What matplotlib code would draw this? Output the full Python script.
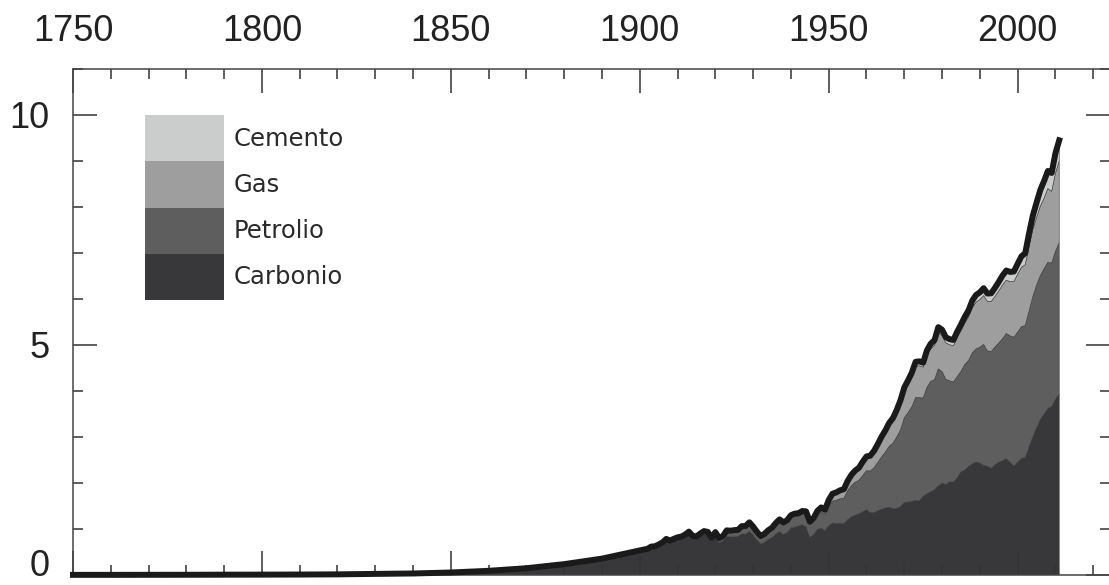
#!/usr/bin/env python3
"""Emissioni globali di CO2 da combustibili fossili e cemento (GtC/anno), 1750-2011."""
import matplotlib

matplotlib.use("Agg")
import matplotlib.pyplot as plt
from matplotlib.patches import Patch
from matplotlib.ticker import MultipleLocator
from matplotlib.transforms import ScaledTranslation

# --- dati (GtC / anno) -------------------------------------------------------
years = list(range(1750, 1900, 10)) + list(range(1900, 2012))

carbonio = [
    # 1750-1890 (per decennio)
    0.003, 0.003, 0.004, 0.005, 0.007, 0.008, 0.010, 0.014, 0.024, 0.033,
    0.054, 0.091, 0.146, 0.231, 0.344,
    # 1900-1949
    0.515, 0.530, 0.543, 0.593, 0.597, 0.632, 0.676, 0.747, 0.711, 0.743,
    0.773, 0.787, 0.828, 0.888, 0.793, 0.779, 0.838, 0.886, 0.865, 0.730,
    0.836, 0.702, 0.732, 0.835, 0.827, 0.831, 0.834, 0.893, 0.887, 0.946,
    0.863, 0.759, 0.675, 0.707, 0.776, 0.813, 0.896, 0.943, 0.882, 0.923,
    1.017, 1.042, 1.064, 1.092, 1.047, 0.819, 0.875, 0.991, 1.017, 0.963,
    # 1950-1999
    1.069, 1.131, 1.121, 1.127, 1.115, 1.203, 1.265, 1.304, 1.330, 1.377,
    1.419, 1.357, 1.355, 1.397, 1.433, 1.456, 1.475, 1.445, 1.449, 1.485,
    1.579, 1.585, 1.601, 1.619, 1.611, 1.714, 1.766, 1.812, 1.854, 1.938,
    2.002, 1.966, 2.026, 2.019, 2.113, 2.243, 2.284, 2.360, 2.415, 2.458,
    2.433, 2.387, 2.365, 2.321, 2.394, 2.451, 2.487, 2.530, 2.449, 2.370,
    # 2000-2011
    2.449, 2.540, 2.544, 2.780, 3.000, 3.200, 3.380, 3.500, 3.620, 3.660,
    3.820, 3.930,
]

petrolio = [
    0, 0, 0, 0, 0, 0, 0, 0, 0, 0, 0, 0, 0.001, 0.003, 0.009,
    0.016, 0.018, 0.019, 0.020, 0.023, 0.023, 0.023, 0.028, 0.030, 0.032,
    0.034, 0.036, 0.037, 0.041, 0.042, 0.045, 0.048, 0.054, 0.056, 0.060,
    0.078, 0.084, 0.094, 0.111, 0.110, 0.116, 0.119, 0.136, 0.143, 0.160,
    0.152, 0.147, 0.141, 0.154, 0.162, 0.176, 0.192, 0.219, 0.214, 0.222,
    0.229, 0.236, 0.222, 0.239, 0.275, 0.275, 0.292, 0.322, 0.364, 0.362,
    0.423, 0.479, 0.504, 0.533, 0.557, 0.625, 0.679, 0.714, 0.731, 0.789,
    0.849, 0.904, 0.980, 1.052, 1.137, 1.219, 1.323, 1.423, 1.551, 1.673,
    1.839, 1.947, 2.057, 2.241, 2.245, 2.132, 2.314, 2.398, 2.392, 2.544,
    2.422, 2.289, 2.196, 2.176, 2.199, 2.186, 2.293, 2.306, 2.412, 2.459,
    2.517, 2.627, 2.506, 2.537, 2.562, 2.594, 2.650, 2.720, 2.750, 2.800,
    2.830, 2.860, 2.880, 2.950, 3.050, 3.100, 3.130, 3.160, 3.180, 3.120,
    3.220, 3.290,
]

gas = [
    0, 0, 0, 0, 0, 0, 0, 0, 0, 0, 0, 0, 0, 0.002, 0.003,
    0.003, 0.004, 0.004, 0.004, 0.004, 0.005, 0.005, 0.005, 0.005, 0.006,
    0.007, 0.008, 0.008, 0.008, 0.009, 0.009, 0.010, 0.010, 0.010, 0.011,
    0.012, 0.011, 0.012, 0.016, 0.018, 0.019, 0.021, 0.023, 0.025, 0.028,
    0.028, 0.025, 0.024, 0.024, 0.026, 0.028, 0.030, 0.034, 0.033, 0.034,
    0.042, 0.044, 0.045, 0.050, 0.054, 0.059, 0.061, 0.067, 0.074, 0.078,
    0.120, 0.137, 0.148, 0.157, 0.166, 0.185, 0.201, 0.218, 0.233, 0.256,
    0.266, 0.288, 0.316, 0.348, 0.381, 0.411, 0.444, 0.478, 0.518, 0.568,
    0.580, 0.615, 0.652, 0.680, 0.692, 0.674, 0.700, 0.711, 0.743, 0.786,
    0.788, 0.792, 0.784, 0.790, 0.850, 0.884, 0.896, 0.944, 0.985, 1.016,
    1.037, 1.060, 1.080, 1.090, 1.100, 1.130, 1.170, 1.160, 1.180, 1.210,
    1.260, 1.290, 1.320, 1.410, 1.459, 1.473, 1.510, 1.532, 1.603, 1.560,
    1.697, 1.779,
]

cemento = [
    0, 0, 0, 0, 0, 0, 0, 0, 0, 0, 0, 0, 0, 0, 0,
    0.000, 0.000, 0.000, 0.000, 0.000, 0.003, 0.003, 0.004, 0.004, 0.004,
    0.005, 0.005, 0.006, 0.006, 0.006, 0.005, 0.005, 0.005, 0.005, 0.005,
    0.006, 0.006, 0.007, 0.008, 0.008, 0.009, 0.009, 0.010, 0.010, 0.011,
    0.010, 0.009, 0.007, 0.008, 0.009, 0.010, 0.012, 0.013, 0.013, 0.013,
    0.011, 0.012, 0.011, 0.010, 0.007, 0.007, 0.010, 0.012, 0.014, 0.016,
    0.018, 0.020, 0.022, 0.024, 0.027, 0.030, 0.032, 0.034, 0.036, 0.040,
    0.043, 0.045, 0.049, 0.051, 0.057, 0.059, 0.063, 0.065, 0.070, 0.074,
    0.078, 0.084, 0.089, 0.095, 0.096, 0.095, 0.103, 0.108, 0.116, 0.119,
    0.120, 0.121, 0.121, 0.125, 0.128, 0.131, 0.137, 0.143, 0.152, 0.156,
    0.157, 0.161, 0.167, 0.176, 0.186, 0.197, 0.203, 0.209, 0.209, 0.217,
    0.226, 0.237, 0.252, 0.276, 0.298, 0.320, 0.350, 0.374, 0.380, 0.400,
    0.430, 0.450,
]

labels = ["Carbonio", "Petrolio", "Gas", "Cemento"]
colours = ["#38383a", "#5e5e5e", "#9e9e9e", "#cacdcc"]

x_major = list(range(1750, 2001, 50))
y_major = [0, 5, 10]

totale = [c + p + g + m for c, p, g, m in zip(carbonio, petrolio, gas, cemento)]

# --- figura ------------------------------------------------------------------
fig = plt.figure(figsize=(11.09, 5.85), dpi=100)
ax = fig.add_axes([0.0658, 0.0171, 0.9353, 0.865])

series = [carbonio, petrolio, gas, cemento]
ax.stackplot(years, *series, colors=colours, edgecolor=colours, linewidth=0.4)
ax.plot(years, totale, color="#1a1a1a", lw=4.3, solid_joinstyle="round", clip_on=False, zorder=4)

ax.set_xlim(1750, 2024.5)
ax.set_ylim(0, 11)
ax.set_xticks(x_major)
ax.xaxis.set_minor_locator(MultipleLocator(10))
ax.set_yticks(y_major)
ax.yaxis.set_minor_locator(MultipleLocator(1))

tick_col = "#333333"
ax.tick_params(axis="x", which="both", direction="in", top=True, bottom=True,
               labeltop=True, labelbottom=False, colors=tick_col, width=1.1)
ax.tick_params(axis="y", which="both", direction="in", left=True, right=True,
               labelleft=True, labelright=False, colors=tick_col, width=1.1)
ax.tick_params(axis="x", which="major", length=17, pad=14.5)
ax.tick_params(axis="y", which="major", length=17, pad=17)
ax.tick_params(which="minor", length=7.2)
for lab in ax.get_xticklabels() + ax.get_yticklabels():
    lab.set_fontfamily("Liberation Sans")
    lab.set_fontsize(26)
    lab.set_color("#222222")

# lo "0" sta un po' sopra l'asse, come nell'originale
zero_lab = ax.yaxis.get_major_ticks()[0].label1
zero_lab.set_transform(zero_lab.get_transform() + ScaledTranslation(0, 0.12, fig.dpi_scale_trans))

for side in ("left", "top", "bottom", "right"):
    ax.spines[side].set_color("#444444")
    ax.spines[side].set_linewidth(1.1)

handles = [Patch(facecolor=c, edgecolor="none", label=l) for c, l in zip(colours, labels)][::-1]
ax.legend(handles=handles, loc="upper left", bbox_to_anchor=(0.0694, 0.909),
          frameon=False, borderpad=0, borderaxespad=0, labelspacing=0,
          handlelength=3.25, handleheight=2.55, handletextpad=0.41,
          prop={"family": "DejaVu Sans", "size": 17.5}, labelcolor="#2a2a2a")

fig.savefig("out.png", dpi=100)
plt.close(fig)
